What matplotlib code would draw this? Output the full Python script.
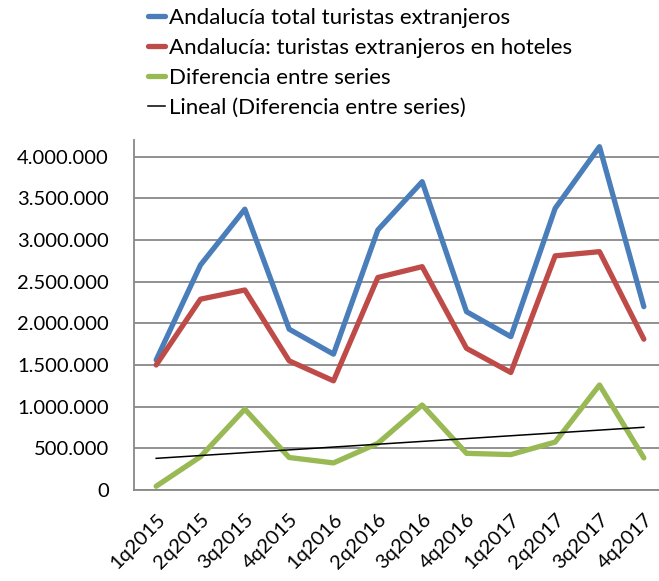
import matplotlib
matplotlib.use("Agg")
import matplotlib.pyplot as plt
import numpy as np

categories = ["1q2015", "2q2015", "3q2015", "4q2015", "1q2016", "2q2016",
              "3q2016", "4q2016", "1q2017", "2q2017", "3q2017", "4q2017"]
total = [1560000, 2700000, 3370000, 1930000, 1630000, 3120000,
         3700000, 2140000, 1840000, 3380000, 4120000, 2200000]
hoteles = [1500000, 2290000, 2400000, 1550000, 1310000, 2550000,
           2680000, 1700000, 1410000, 2810000, 2860000, 1810000]
diferencia = [45000, 400000, 970000, 390000, 325000, 560000,
              1020000, 440000, 425000, 575000, 1260000, 385000]
yticks = [0, 500000, 1000000, 1500000, 2000000, 2500000, 3000000, 3500000, 4000000]

labels = ["Andalucía total turistas extranjeros",
          "Andalucía: turistas extranjeros en hoteles",
          "Diferencia entre series",
          "Lineal (Diferencia entre series)"]

plt.rcParams['font.family'] = ['Lato', 'DejaVu Sans']

fig = plt.figure(figsize=(6.59, 5.81), dpi=100)
ax = fig.add_axes([134/659, 1-490/581, (666-134)/659, (490-140)/581])

x = np.arange(len(categories))
l1, = ax.plot(x, total, color="#4A7EBB", lw=3.8, solid_capstyle="round", solid_joinstyle="round")
l2, = ax.plot(x, hoteles, color="#BE4B48", lw=3.8, solid_capstyle="round", solid_joinstyle="round")
l3, = ax.plot(x, diferencia, color="#98B954", lw=3.8, solid_capstyle="round", solid_joinstyle="round")
coef = np.polyfit(x, diferencia, 1)
l4, = ax.plot(x, np.polyval(coef, x), color="black", lw=1.1)

ax.set_xlim(-0.5, len(categories) - 0.5)
ax.set_ylim(0, 4200000)
ax.set_yticks(yticks)
ax.set_yticklabels([f"{v:,}".replace(",", ".") for v in yticks], fontsize=14.5)
ax.set_xticks(x)
ax.set_xticklabels(categories, rotation=45, ha="right", va="top",
                   rotation_mode="anchor", fontsize=14.5)
ax.tick_params(axis="y", length=0, pad=18)
ax.tick_params(axis="x", length=0, pad=15)
ax.grid(axis="y", color="#888888", lw=1.3)
ax.set_axisbelow(True)
for s in ["top", "right"]:
    ax.spines[s].set_visible(False)
for s in ["left", "bottom"]:
    ax.spines[s].set_color("#888888")
    ax.spines[s].set_linewidth(1.3)

fig.legend([l1, l2, l3, l4], labels, loc="upper left",
           bbox_to_anchor=(148/659, 1 - 8/581), frameon=False, fontsize=16,
           handlelength=0.75, handletextpad=0.2, labelspacing=0.45,
           borderaxespad=0, borderpad=0)

fig.savefig("out.png", dpi=100)
